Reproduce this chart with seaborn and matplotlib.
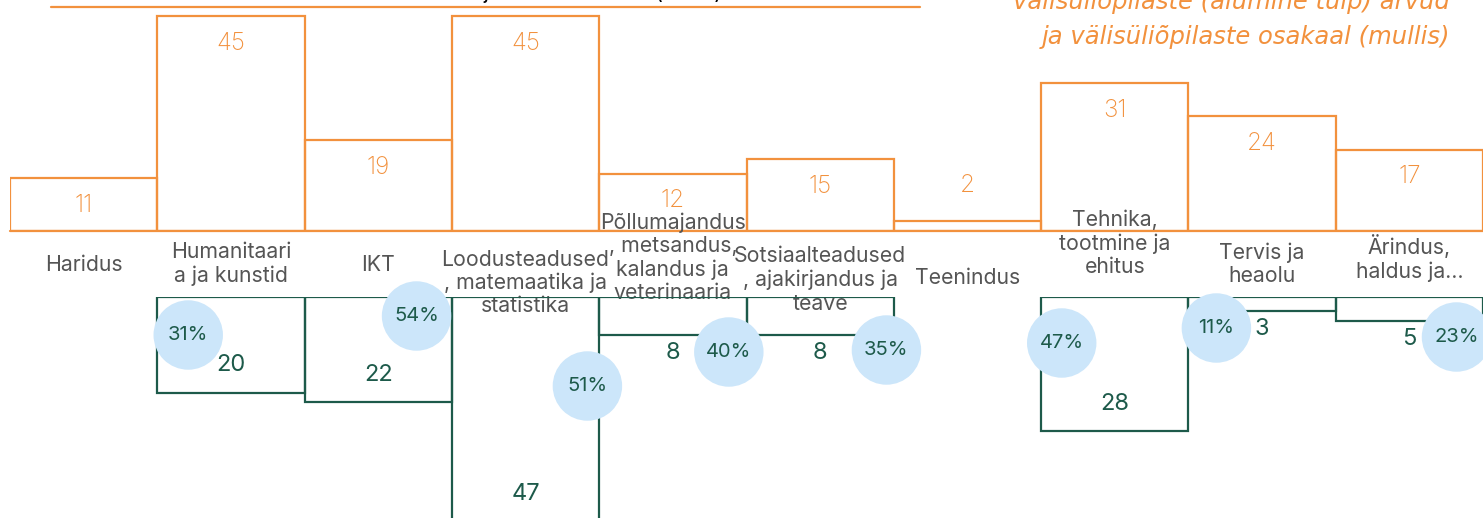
import numpy as np
import matplotlib
matplotlib.use("Agg")
import matplotlib.pyplot as plt
import matplotlib.transforms as mtransforms
from matplotlib.lines import Line2D
import seaborn as sns

# Data
categories = ["Haridus", "Humanitaaria ja kunstid", "IKT",
              "Loodusteadused, matemaatika ja statistika",
              "Põllumajandus, metsandus, kalandus ja veterinaaria",
              "Sotsiaalteadused, ajakirjandus ja teave", "Teenindus",
              "Tehnika, tootmine ja ehitus", "Tervis ja heaolu",
              "Ärindus, haldus ja õigus"]
tick_labels = ["Haridus", "Humanitaari\na ja kunstid", "IKT",
               "Loodusteadused\n, matemaatika ja\nstatistika",
               "Põllumajandus\n, metsandus,\nkalandus ja\nveterinaaria",
               "Sotsiaalteadused\n, ajakirjandus ja\nteave", "Teenindus",
               "Tehnika,\ntootmine ja\nehitus", "Tervis ja\nheaolu",
               "Ärindus,\nhaldus ja…"]
total = [11, 45, 19, 45, 12, 15, 2, 31, 24, 17]
foreign = [np.nan, 20, 22, 47, 8, 8, np.nan, 28, 3, 5]
foreign_share = [np.nan, 31, 54, 51, 40, 35, np.nan, 47, 11, 23]

title_text = "Doktorantide arv valdkonniti ja nende osakaal (2023)"
legend_lines = ["välisüliõpilaste (alumine tulp) arvud",
                "ja välisüliõpilaste osakaal (mullis)"]

# Layout (pixels in the 1483x518 canvas)
W, H = 1483, 518
label_y_px = [265, 264, 265, 283, 258, 280, 278, 243, 264, 258]
bubble_dx = [0, -0.29, 0.26, 0.42, 0.38, 0.45, 0, -0.36, -0.31, 0.32]
bubble_y_px = [0, 335, 316, 386, 352, 350, 0, 343, 328, 337]

orange = "#f2913d"
green = "#1d5a4a"
bubble_col = "#cce6fa"
grey = "#555555"

sns.set_style("white")
plt.rcParams["font.family"] = ["Inter", "DejaVu Sans"]

fig = plt.figure(figsize=(W / 100, H / 100), dpi=100)

base_top, base_bot = 231, 297
px_unit = 4.78
ax_top = fig.add_axes([10 / W, 1 - base_top / H, (W - 10) / W, base_top / H])
ax_bot = fig.add_axes([10 / W, 0, (W - 10) / W, (H - base_bot) / H])

# top bars: all students
sns.barplot(x=categories, y=total, order=categories, ax=ax_top, color=orange,
            fill=False, width=1.0, linewidth=1.6)
ax_top.set_xlim(-0.5, 9.5)
ax_top.set_ylim(0, base_top / px_unit)
ax_top.axhline(0, color=orange, lw=1.6, clip_on=False)
ax_top.axis("off")

for i, v in enumerate(total):
    y = v - 5.7 if v > 6 else v + 7.6
    ax_top.text(i, y, str(v), ha="center", va="center", color=orange,
                fontsize=17.5, fontweight="light")

# bottom bars: foreign students (hanging down)
sns.barplot(x=categories, y=foreign, order=categories, ax=ax_bot, color=green,
            fill=False, width=1.0, linewidth=1.6)
ax_bot.set_xlim(-0.5, 9.5)
ax_bot.set_ylim((H - base_bot) / px_unit, 0)
ax_bot.axis("off")

for i, v in enumerate(foreign):
    if np.isnan(v):
        continue
    y = v - 5.7 if v > 10 else v + 3.7
    ax_bot.text(i, y, f"{v:.0f}", ha="center", va="center", color=green,
                fontsize=17)

# bubbles with foreign share
bx, by, bt = [], [], []
for i, s in enumerate(foreign_share):
    if np.isnan(s):
        continue
    bx.append(i + bubble_dx[i])
    by.append((bubble_y_px[i] - base_bot) / px_unit)
    bt.append(f"{s:.0f}%")
sns.scatterplot(x=bx, y=by, ax=ax_bot, s=2500, color=bubble_col,
                edgecolor="none", zorder=5, clip_on=False, legend=False)
for x, y, t in zip(bx, by, bt):
    ax_bot.text(x, y, t, ha="center", va="center", color=green, fontsize=14.5,
                zorder=6)

# category labels between the two panels
lab_tr = mtransforms.blended_transform_factory(ax_top.transData, fig.transFigure)
for i, lab in enumerate(tick_labels):
    ax_top.text(i, 1 - label_y_px[i] / H, lab, transform=lab_tr, ha="center",
                va="center", color=grey, fontsize=15.3, linespacing=1.2,
                clip_on=False, zorder=7)

# cut-off title and underline
fig.text(722 / W, 1 + 1 / H, title_text, ha="right", va="baseline",
         fontsize=15, color="black")
fig.add_artist(Line2D([51 / W, 920 / W], [1 - 7 / H, 1 - 7 / H],
                      color=orange, lw=1.6))

# legend text (right, italic)
for line, ypx in zip(legend_lines, [2, 37]):
    fig.text(1450 / W, 1 - ypx / H, line, ha="right", va="center",
             fontsize=17.5, color=orange, style="italic",
             family=["DejaVu Sans"])

fig.savefig("out.png", dpi=100)
